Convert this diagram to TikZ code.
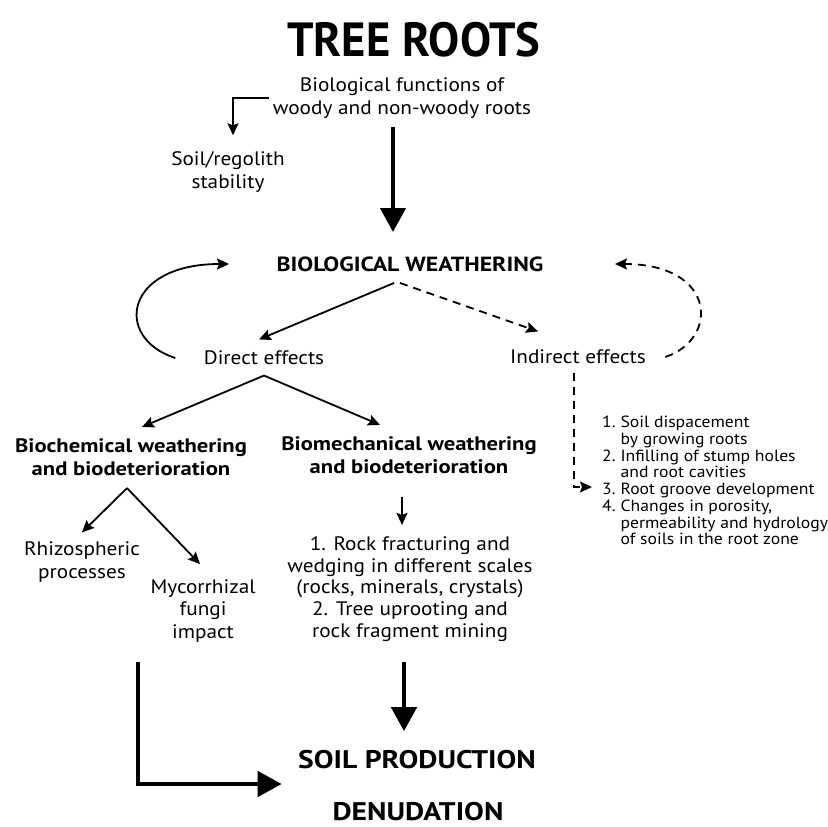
\documentclass[tikz,border=0pt]{standalone}
\usepackage{fontspec}
\setmainfont{PT Sans}[FakeStretch=1.09, BoldFeatures={FakeStretch=1.16}]
\newfontfamily\titlefont{PT Sans}[FakeStretch=0.97]
\usepackage{tikz}
\usetikzlibrary{arrows.meta,positioning,calc}

\begin{document}
\begin{tikzpicture}[x=1pt,y=-1pt,
    every node/.style={font=\fontsize{19.5}{22.5}\selectfont, align=center},
    headtext/.style={font=\fontsize{19.5}{23}\selectfont\bfseries},
    capstext/.style={font=\fontsize{20.5}{24}\selectfont\bfseries},
    soiltext/.style={font=\fontsize{25.5}{28}\selectfont\bfseries},
    listtext/.style={font=\fontsize{16.2}{16.7}\selectfont, inner sep=0pt},
    thinarrow/.style={line width=1.8pt, -{Stealth[length=12pt,width=11pt,inset=2pt]}},
    dasharrow/.style={thinarrow, dash pattern=on 8pt off 6pt},
    bigarrow/.style={line width=4.5pt, -{Triangle[length=24pt,width=25pt]}}]
  \useasboundingbox (0,0) rectangle (828,827);

  % nodes
  \node[font=\titlefont\fontsize{48}{50}\selectfont\bfseries] (title) at (414,40) {TREE ROOTS};
  \node (functions) at (402,98) {Biological functions of\\woody and non-woody roots};
  \node (stability) at (228,172) {Soil/regolith\\stability};
  \node[capstext] (weathering) at (410,264) {BIOLOGICAL WEATHERING};
  \node (direct) at (264,358) {Direct effects};
  \node (indirect) at (578,357) {Indirect effects};
  \node[headtext] (biochem) at (131,457) {Biochemical weathering\\and biodeterioration};
  \node[headtext] (biomech) at (409,455) {Biomechanical weathering\\and biodeterioration};
  \node (rhizo) at (82,562) {Rhizospheric\\processes};
  \node (myco) at (203,611) {Mycorrhizal\\fungi\\impact};
  \node[font=\fontsize{19.5}{21.75}\selectfont] (mechlist) at (410,589)
    {1. Rock fracturing and\\wedging in different scales\\(rocks, minerals, crystals)\\2. Tree uprooting and\\rock fragment mining};
  \node[listtext, anchor=north west] (effects) at (602,416) {%
    \begin{tabular}{@{}r@{\hspace{5pt}}l@{}}
      1. & Soil dispacement\\
         & by growing roots\\
      2. & Infilling of stump holes\\
         & and root cavities\\
      3. & Root groove development\\
      4. & Changes in porosity,\\
         & permeability and hydrology\\
         & of soils in the root zone
    \end{tabular}};
  \node[soiltext] (soil) at (417,760) {SOIL PRODUCTION};
  \node[soiltext] (denud) at (418,812) {DENUDATION};

  % connectors
  \draw[thinarrow, shorten >=13pt] (functions.west) -| ([xshift=5pt]stability.north);
  \draw[bigarrow] ([xshift=-9pt,yshift=-5pt]functions.south) -- ([xshift=-17pt,yshift=21pt]weathering.north);
  \draw[thinarrow] ([xshift=-16pt,yshift=-8pt]weathering.south) -- ([xshift=-5pt,yshift=8pt]direct.north);
  \draw[dasharrow] ([xshift=-10pt,yshift=-8pt]weathering.south) -- ([xshift=-40pt,yshift=15pt]indirect.north);
  \draw[thinarrow] ([xshift=-25pt]direct.west) .. controls +(-62,-20) and +(-105,0) .. ([xshift=-44pt]weathering.west);
  \draw[dasharrow] ([xshift=16pt]indirect.east) .. controls +(54,-18) and +(102,0) .. ([xshift=68pt]weathering.east);
  \draw[thinarrow] ([yshift=-7pt]direct.south) -- ([xshift=11pt,yshift=8pt]biochem.north);
  \draw[thinarrow] ([yshift=-7pt]direct.south) -- ([xshift=-29pt,yshift=8pt]biomech.north);
  \draw[thinarrow] ([xshift=-4pt,yshift=-9pt]biochem.south) -- ([yshift=6pt]rhizo.north);
  \draw[thinarrow] ([xshift=-4pt,yshift=-9pt]biochem.south) -- ([xshift=-3pt,yshift=12pt]myco.north);
  \draw[thinarrow] ([xshift=-7pt,yshift=-20pt]biomech.south) -- ([xshift=-8pt,yshift=8pt]mechlist.north);
  \draw[dasharrow] ([xshift=-4pt,yshift=-5pt]indirect.south) |- ([xshift=-10pt,yshift=-71pt]effects.north west);
  \draw[bigarrow] ([xshift=-6pt,yshift=-17pt]mechlist.south) -- ([xshift=-13pt,yshift=16pt]soil.north);
  \draw[bigarrow] ([xshift=-65pt,yshift=-16pt]myco.south) |- ([xshift=-13pt,yshift=-24pt]soil.west);
\end{tikzpicture}
\end{document}
